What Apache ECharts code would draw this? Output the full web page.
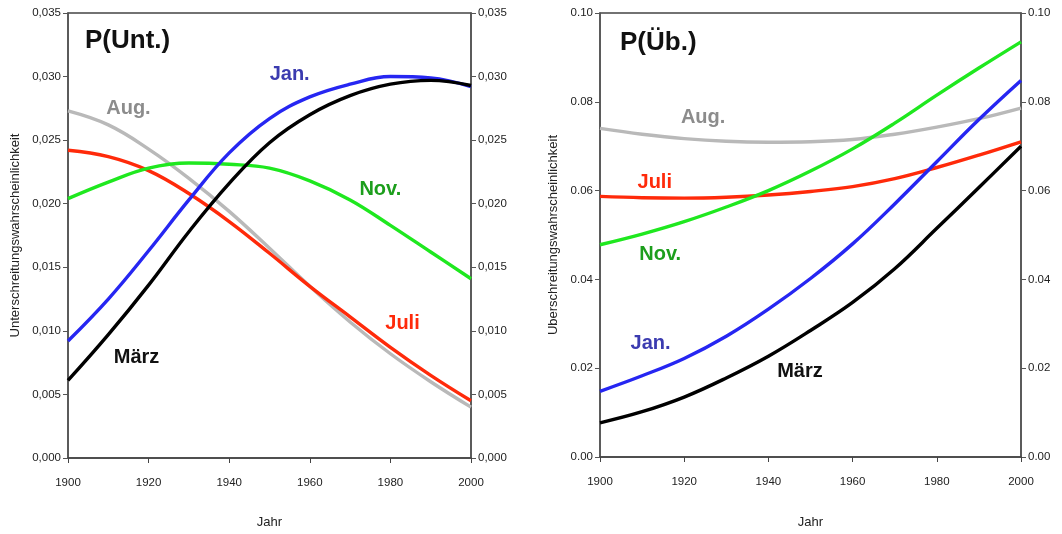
<!DOCTYPE html>
<html>
<head>
<meta charset="utf-8">
<script src="https://cdn.jsdelivr.net/npm/echarts@6/dist/echarts.min.js"></script>
<style>
html,body{margin:0;padding:0;background:#fff;}
#c{width:1062px;height:534px;}
</style>
</head>
<body>
<div id="c"></div>
<script>
// ---- data ----
const years = [1900, 1910, 1920, 1930, 1940, 1950, 1960, 1970, 1980, 1990, 2000];

// P(Unt.) – Unterschreitungswahrscheinlichkeit
const untJan  = [0.0092, 0.0125, 0.0163, 0.0203, 0.0240, 0.0267, 0.0284, 0.0294, 0.0300, 0.0299, 0.0292];
const untMaerz= [0.0061, 0.0097, 0.0136, 0.0178, 0.0216, 0.0248, 0.0270, 0.0285, 0.0294, 0.0297, 0.0293];
const untJuli = [0.0242, 0.0237, 0.0226, 0.0208, 0.0186, 0.0161, 0.0135, 0.0111, 0.0087, 0.0065, 0.0045];
const untAug  = [0.0273, 0.0262, 0.0243, 0.0220, 0.0194, 0.0165, 0.0135, 0.0107, 0.0082, 0.0060, 0.0040];
const untNov  = [0.0204, 0.0217, 0.0228, 0.0232, 0.0231, 0.0228, 0.0218, 0.0203, 0.0183, 0.0162, 0.0141];

// P(Üb.) – Überschreitungswahrscheinlichkeit
const ubJan   = [0.0148, 0.0183, 0.0222, 0.0272, 0.0333, 0.0402, 0.0480, 0.0570, 0.0665, 0.0760, 0.0848];
const ubMaerz = [0.0077, 0.0102, 0.0135, 0.0178, 0.0227, 0.0285, 0.0348, 0.0424, 0.0515, 0.0607, 0.0700];
const ubJuli  = [0.0587, 0.0584, 0.0583, 0.0585, 0.0590, 0.0598, 0.0609, 0.0627, 0.0652, 0.0680, 0.0710];
const ubAug   = [0.0740, 0.0727, 0.0717, 0.0711, 0.0709, 0.0710, 0.0715, 0.0727, 0.0743, 0.0762, 0.0786];
const ubNov   = [0.0478, 0.0502, 0.0530, 0.0563, 0.0600, 0.0644, 0.0694, 0.0752, 0.0815, 0.0876, 0.0935];

const leftTitle = 'P(Unt.)';
const rightTitle = 'P(Üb.)';
const leftYName = 'Unterschreitungswahrscheinlichkeit';
const rightYName = 'Uberschreitungswahrscheinlichkeit';
const xName = 'Jahr';

// ---- styling ----
const FONT = "'Liberation Sans Narrow', 'Arial Narrow', 'Liberation Sans', sans-serif";
const BOLD = "'Liberation Sans', Arial, sans-serif";
const C = {
  jan: '#2626f2', maerz: '#000000', juli: '#ff2a0a', aug: '#b9b9b9', nov: '#1fe81f'
};
const LBL = {
  jan: '#3b3bb0', maerz: '#111111', juli: '#ff2a0a', aug: '#8c8c8c', nov: '#1c9e1c'
};

const pair = (vals) => years.map((y, i) => [y, vals[i]]);

function xAxisCfg(grid) {
  return {
    type: 'value', gridIndex: grid, min: 1900, max: 2000, interval: 20,
    name: xName, nameLocation: 'middle', nameGap: grid === 0 ? 58 : 59,
    nameTextStyle: { fontFamily: FONT, fontSize: 13, color: '#222' },
    axisLine: { show: true, lineStyle: { color: '#444', width: 1.5 } },
    axisTick: { show: true, inside: false, length: 5, lineStyle: { color: '#444' } },
    axisLabel: { fontFamily: FONT, fontSize: 11.5, color: '#222', margin: 19, formatter: v => String(v) },
    splitLine: { show: false }
  };
}
function yAxisCfg(grid, pos, max, interval, fmt, name, gap) {
  return {
    type: 'value', gridIndex: grid, position: pos, min: 0, max: max, interval: interval,
    name: name || '', nameLocation: 'middle', nameGap: gap || 0,
    nameTextStyle: { fontFamily: BOLD, fontSize: 13, color: '#222' },
    axisLine: { show: true, onZero: false, lineStyle: { color: '#555', width: 1.5 } },
    axisTick: { show: true, inside: false, length: 5, lineStyle: { color: '#555' } },
    axisLabel: { fontFamily: FONT, fontSize: 11.5, color: '#222', margin: 7, formatter: fmt },
    splitLine: { show: false }
  };
}
const fmtComma = v => v.toFixed(3).replace('.', ',');
const fmtDot = v => v.toFixed(2);

function lineSeries(name, vals, color, xi, yi, lbl) {
  const s = {
    name: name, type: 'line', xAxisIndex: xi, yAxisIndex: yi,
    data: pair(vals), smooth: 0.4, showSymbol: false, silent: true,
    lineStyle: { color: color, width: 3.4 },
    z: 3
  };
  if (lbl) {
    s.markPoint = {
      symbol: 'circle', symbolSize: 0, silent: true,
      data: [{ coord: lbl.at, value: lbl.text }],
      label: {
        show: true, position: 'inside', formatter: lbl.text,
        fontFamily: BOLD, fontWeight: 'bold',
        fontSize: 20, color: lbl.color
      }
    };
  }
  return s;
}

const chart = echarts.init(document.getElementById('c'), null, { renderer: 'canvas' });
chart.setOption({
  backgroundColor: '#fff',
  animation: false,
  grid: [
    { left: 68, top: 13, width: 403, height: 450, show: true, borderColor: '#444', borderWidth: 1.5 },
    { left: 600, top: 13, width: 421, height: 445, show: true, borderColor: '#444', borderWidth: 1.5 }
  ],
  xAxis: [xAxisCfg(0), xAxisCfg(1)],
  yAxis: [
    yAxisCfg(0, 'left', 0.035, 0.005, fmtComma, leftYName, 46),
    yAxisCfg(0, 'right', 0.035, 0.005, fmtComma),
    yAxisCfg(1, 'left', 0.10, 0.02, fmtDot, rightYName, 40),
    yAxisCfg(1, 'right', 0.10, 0.02, fmtDot)
  ],
  graphic: [
    { type: 'text', left: 85, top: 28, style: { text: leftTitle, fontFamily: BOLD, fontWeight: 'bold', fontSize: 26, fill: '#111' } },
    { type: 'text', left: 620, top: 30, style: { text: rightTitle, fontFamily: BOLD, fontWeight: 'bold', fontSize: 26, fill: '#111' } }
  ],
  series: [
    lineSeries('Aug.', untAug, C.aug, 0, 0, { at: [1915, 0.0275], text: 'Aug.', color: LBL.aug }),
    lineSeries('Juli', untJuli, C.juli, 0, 0, { at: [1983, 0.0106], text: 'Juli', color: LBL.juli }),
    lineSeries('Nov.', untNov, C.nov, 0, 0, { at: [1977.5, 0.0211], text: 'Nov.', color: LBL.nov }),
    lineSeries('Jan.', untJan, C.jan, 0, 0, { at: [1955, 0.0302], text: 'Jan.', color: LBL.jan }),
    lineSeries('März', untMaerz, C.maerz, 0, 0, { at: [1917, 0.0079], text: 'März', color: LBL.maerz }),

    lineSeries('Aug.', ubAug, C.aug, 1, 2, { at: [1924.5, 0.0764], text: 'Aug.', color: LBL.aug }),
    lineSeries('Juli', ubJuli, C.juli, 1, 2, { at: [1913, 0.0618], text: 'Juli', color: LBL.juli }),
    lineSeries('Nov.', ubNov, C.nov, 1, 2, { at: [1914.3, 0.0456], text: 'Nov.', color: LBL.nov }),
    lineSeries('Jan.', ubJan, C.jan, 1, 2, { at: [1912, 0.0256], text: 'Jan.', color: LBL.jan }),
    lineSeries('März', ubMaerz, C.maerz, 1, 2, { at: [1947.5, 0.0193], text: 'März', color: LBL.maerz })
  ]
});
</script>
</body>
</html>
